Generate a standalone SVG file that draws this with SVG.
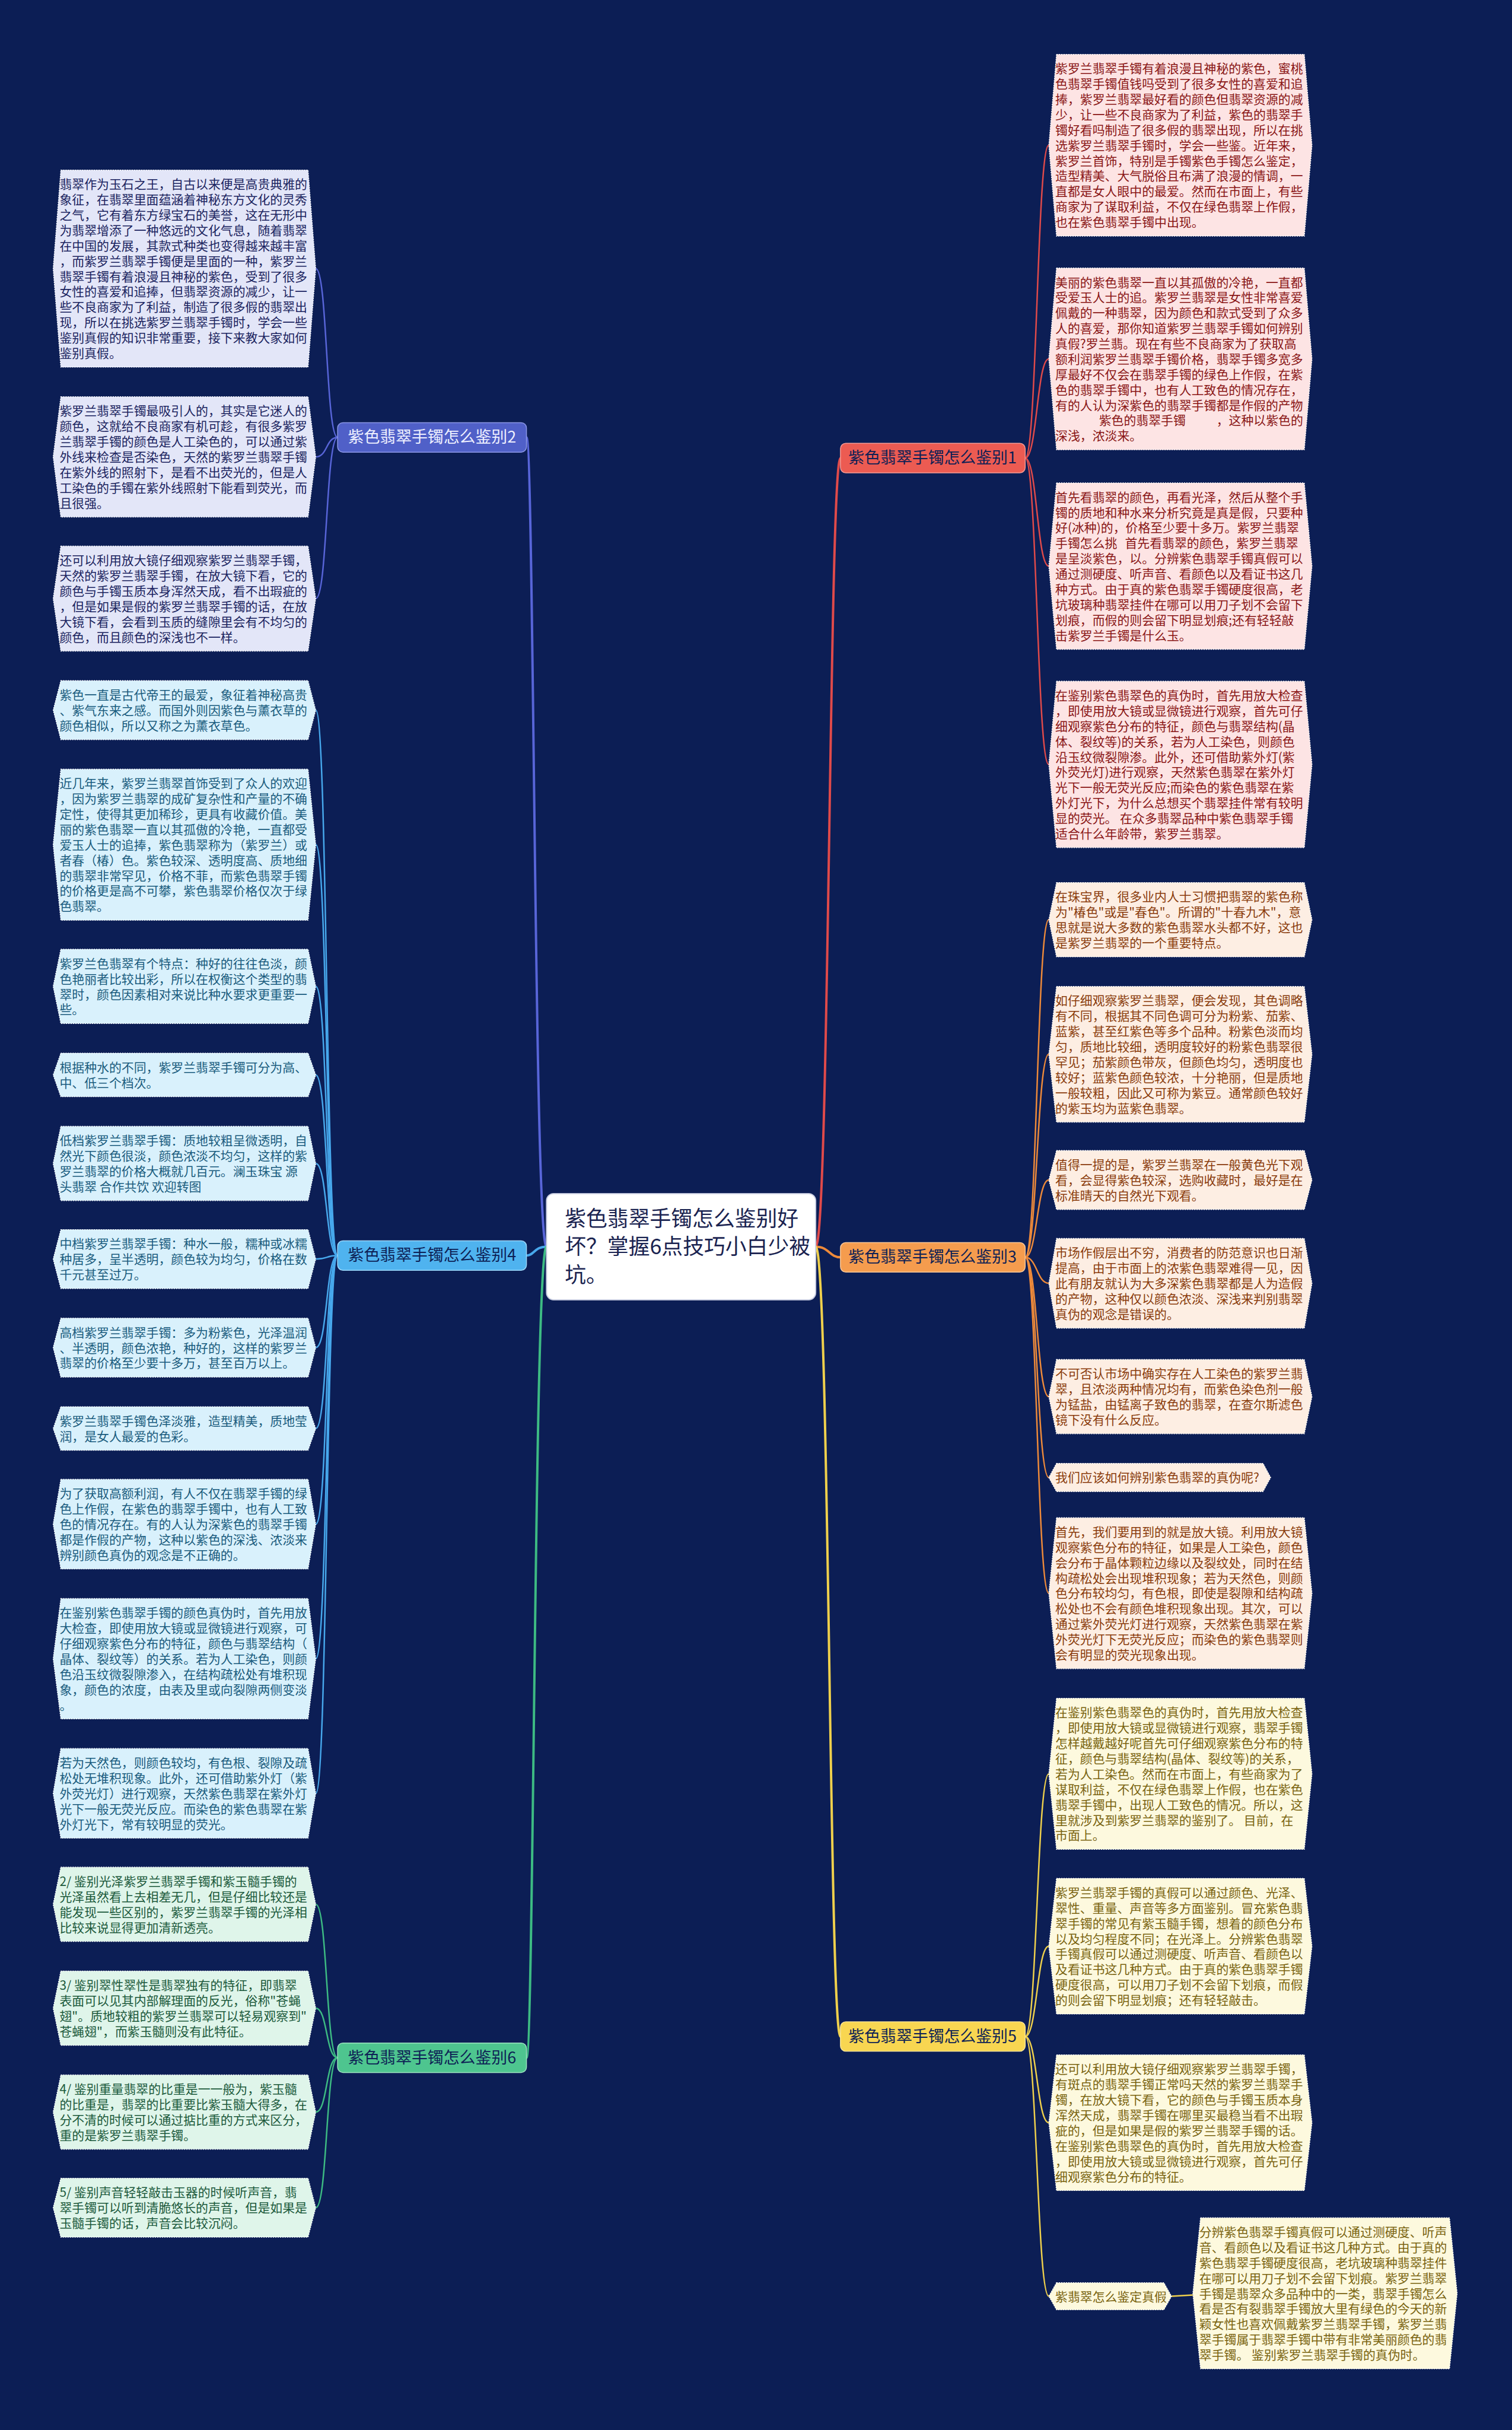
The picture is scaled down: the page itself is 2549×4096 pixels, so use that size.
<svg xmlns="http://www.w3.org/2000/svg" width="2549" height="4096" viewBox="0 0 2549 4096">
<style>
text{font-family:"Noto Sans CJK SC","Noto Sans",sans-serif;}
.t{font-size:21px;}
.box{stroke:#ffffff;stroke-width:1.3;stroke-dasharray:2 2;}
.g2 .box{fill:#e3e6f8}.g2 text{fill:#1b2460}
.g4 .box{fill:#d9f1fc}.g4 text{fill:#1a5c7e}
.g6 .box{fill:#dff5ea}.g6 text{fill:#1c5a3c}
.g1 .box{fill:#fde4e4}.g1 text{fill:#8a1616}
.g3 .box{fill:#fdeee3}.g3 text{fill:#8a3c0c}
.g5 .box{fill:#fdf9de}.g5 text{fill:#7a6410}
.br{font-size:27px;text-anchor:middle;}
.c{fill:none;stroke-width:2.5;}
.m{fill:none;stroke-width:4;}
</style>
<rect x="0" y="0" width="2549" height="4096" fill="#0c1e55"/>
<g transform="scale(0.995)">
<g id="connectors">
<path class="m" stroke="#5865d8" d="M926,2112 C905,2112 905,741 892,741"/>
<path class="m" stroke="#47a8ec" d="M926,2112 C905,2112 905,2127 892,2127"/>
<path class="m" stroke="#3dbb83" d="M926,2112 C905,2112 905,3486 892,3486"/>
<path class="m" stroke="#e04a4a" d="M1382,2112 C1405,2112 1405,776 1424,776"/>
<path class="m" stroke="#ee8a3a" d="M1382,2112 C1405,2112 1405,2130 1424,2130"/>
<path class="m" stroke="#efd04c" d="M1382,2112 C1405,2112 1405,3450 1424,3450"/>
<g stroke="#5865d8">
<path class="c" d="M572,741 C552,741 555,455 535,455"/>
<path class="c" d="M572,741 C552,741 555,774 535,774"/>
<path class="c" d="M572,741 C552,741 555,1014 535,1014"/>
</g>
<g stroke="#47a8ec">
<path class="c" d="M572,2127 C552,2127 555,1203 535,1203"/>
<path class="c" d="M572,2127 C552,2127 555,1431 535,1431"/>
<path class="c" d="M572,2127 C552,2127 555,1671 535,1671"/>
<path class="c" d="M572,2127 C552,2127 555,1821 535,1821"/>
<path class="c" d="M572,2127 C552,2127 555,1971 535,1971"/>
<path class="c" d="M572,2127 C552,2127 555,2133 535,2133"/>
<path class="c" d="M572,2127 C552,2127 555,2283 535,2283"/>
<path class="c" d="M572,2127 C552,2127 555,2420 535,2420"/>
<path class="c" d="M572,2127 C552,2127 555,2582 535,2582"/>
<path class="c" d="M572,2127 C552,2127 555,2810 535,2810"/>
<path class="c" d="M572,2127 C552,2127 555,3038 535,3038"/>
</g>
<g stroke="#3dbb83">
<path class="c" d="M572,3486 C552,3486 555,3226 535,3226"/>
<path class="c" d="M572,3486 C552,3486 555,3402 535,3402"/>
<path class="c" d="M572,3486 C552,3486 555,3578 535,3578"/>
<path class="c" d="M572,3486 C552,3486 555,3740 535,3740"/>
</g>
<g stroke="#e04a4a">
<path class="c" d="M1737,776 C1757,776 1757,246 1777,246"/>
<path class="c" d="M1737,776 C1757,776 1757,608 1777,608"/>
<path class="c" d="M1737,776 C1757,776 1757,959 1777,959"/>
<path class="c" d="M1737,776 C1757,776 1757,1295 1777,1295"/>
</g>
<g stroke="#ee8a3a">
<path class="c" d="M1737,2130 C1757,2130 1757,1558 1777,1558"/>
<path class="c" d="M1737,2130 C1757,2130 1757,1786 1777,1786"/>
<path class="c" d="M1737,2130 C1757,2130 1757,1999 1777,1999"/>
<path class="c" d="M1737,2130 C1757,2130 1757,2174 1777,2174"/>
<path class="c" d="M1737,2130 C1757,2130 1757,2366 1777,2366"/>
<path class="c" d="M1737,2130 C1757,2130 1757,2503 1777,2503"/>
<path class="c" d="M1737,2130 C1757,2130 1757,2699 1777,2699"/>
</g>
<g stroke="#efd04c">
<path class="c" d="M1737,3450 C1757,3450 1757,3005 1777,3005"/>
<path class="c" d="M1737,3450 C1757,3450 1757,3297 1777,3297"/>
<path class="c" d="M1737,3450 C1757,3450 1757,3596 1777,3596"/>
<path class="c" d="M1737,3450 C1757,3450 1757,3890 1777,3890"/>
<path class="c" d="M1985,3890 L2021,3888"/>
</g>
</g>

<g id="center">
<rect x="926" y="2022" width="456" height="180" rx="12" fill="#ffffff" stroke="#c8cde0" stroke-width="2"/>
<text x="957" y="2077" font-size="36" fill="#1a2350">紫色翡翠手镯怎么鉴别好</text>
<text x="957" y="2125" font-size="36" fill="#1a2350">坏？掌握6点技巧小白少被</text>
<text x="957" y="2173" font-size="36" fill="#1a2350">坑。</text>
</g>

<g id="branch2"><rect x="572" y="716" width="320" height="50" rx="9" fill="#5060c8" stroke="#8c98e8" stroke-width="1.5"/><text class="br" x="732" y="750" fill="#eef0ff">紫色翡翠手镯怎么鉴别2</text></g>
<g id="branch4"><rect x="572" y="2102" width="320" height="50" rx="9" fill="#4fb3ef" stroke="#9bd6f8" stroke-width="1.5"/><text class="br" x="732" y="2136" fill="#0d1f55">紫色翡翠手镯怎么鉴别4</text></g>
<g id="branch6"><rect x="572" y="3461" width="320" height="50" rx="9" fill="#4ec58f" stroke="#9ce3c0" stroke-width="1.5"/><text class="br" x="732" y="3495" fill="#0d1f55">紫色翡翠手镯怎么鉴别6</text></g>
<g id="branch1"><rect x="1424" y="751" width="313" height="50" rx="9" fill="#ec5b52" stroke="#f59a94" stroke-width="1.5"/><text class="br" x="1580" y="785" fill="#0d1f55">紫色翡翠手镯怎么鉴别1</text></g>
<g id="branch3"><rect x="1424" y="2105" width="313" height="50" rx="9" fill="#f59c4e" stroke="#f9c797" stroke-width="1.5"/><text class="br" x="1580" y="2139" fill="#0d1f55">紫色翡翠手镯怎么鉴别3</text></g>
<g id="branch5"><rect x="1424" y="3425" width="313" height="50" rx="9" fill="#f8d651" stroke="#fbe79a" stroke-width="1.5"/><text class="br" x="1580" y="3459" fill="#0d1f55">紫色翡翠手镯怎么鉴别5</text></g>

<g class="g2">
<g id="L2a"><polygon class="box" points="103,288 522,288 535,455 522,622 103,622 90,455"/>
<text class="t" x="101" y="320">翡翠作为玉石之王，自古以来便是高贵典雅的</text>
<text class="t" x="101" y="346">象征，在翡翠里面蕴涵着神秘东方文化的灵秀</text>
<text class="t" x="101" y="372">之气，它有着东方绿宝石的美誉，这在无形中</text>
<text class="t" x="101" y="398">为翡翠增添了一种悠远的文化气息，随着翡翠</text>
<text class="t" x="101" y="424">在中国的发展，其款式种类也变得越来越丰富</text>
<text class="t" x="101" y="450">，而紫罗兰翡翠手镯便是里面的一种，紫罗兰</text>
<text class="t" x="101" y="476">翡翠手镯有着浪漫且神秘的紫色，受到了很多</text>
<text class="t" x="101" y="502">女性的喜爱和追捧，但翡翠资源的减少，让一</text>
<text class="t" x="101" y="528">些不良商家为了利益，制造了很多假的翡翠出</text>
<text class="t" x="101" y="554">现，所以在挑选紫罗兰翡翠手镯时，学会一些</text>
<text class="t" x="101" y="580">鉴别真假的知识非常重要，接下来教大家如何</text>
<text class="t" x="101" y="606">鉴别真假。</text></g>
<g id="L2b"><polygon class="box" points="103,672 522,672 535,774 522,876 103,876 90,774"/>
<text class="t" x="101" y="704">紫罗兰翡翠手镯最吸引人的，其实是它迷人的</text>
<text class="t" x="101" y="730">颜色，这就给不良商家有机可趁，有很多紫罗</text>
<text class="t" x="101" y="756">兰翡翠手镯的颜色是人工染色的，可以通过紫</text>
<text class="t" x="101" y="782">外线来检查是否染色，天然的紫罗兰翡翠手镯</text>
<text class="t" x="101" y="808">在紫外线的照射下，是看不出荧光的，但是人</text>
<text class="t" x="101" y="834">工染色的手镯在紫外线照射下能看到荧光，而</text>
<text class="t" x="101" y="860">且很强。</text></g>
<g id="L2c"><polygon class="box" points="103,925 522,925 535,1014 522,1103 103,1103 90,1014"/>
<text class="t" x="101" y="957">还可以利用放大镜仔细观察紫罗兰翡翠手镯，</text>
<text class="t" x="101" y="983">天然的紫罗兰翡翠手镯，在放大镜下看，它的</text>
<text class="t" x="101" y="1009">颜色与手镯玉质本身浑然天成，看不出瑕疵的</text>
<text class="t" x="101" y="1035">，但是如果是假的紫罗兰翡翠手镯的话，在放</text>
<text class="t" x="101" y="1061">大镜下看，会看到玉质的缝隙里会有不均匀的</text>
<text class="t" x="101" y="1087">颜色，而且颜色的深浅也不一样。</text></g>
</g>

<g class="g4">
<g id="L4a"><polygon class="box" points="103,1153 522,1153 535,1203 522,1253 103,1253 90,1203"/>
<text class="t" x="101" y="1185">紫色一直是古代帝王的最爱，象征着神秘高贵</text>
<text class="t" x="101" y="1211">、紫气东来之感。而国外则因紫色与薰衣草的</text>
<text class="t" x="101" y="1237">颜色相似，所以又称之为薰衣草色。</text></g>
<g id="L4b"><polygon class="box" points="103,1303 522,1303 535,1431 522,1559 103,1559 90,1431"/>
<text class="t" x="101" y="1335">近几年来，紫罗兰翡翠首饰受到了众人的欢迎</text>
<text class="t" x="101" y="1361">，因为紫罗兰翡翠的成矿复杂性和产量的不确</text>
<text class="t" x="101" y="1387">定性，使得其更加稀珍，更具有收藏价值。美</text>
<text class="t" x="101" y="1413">丽的紫色翡翠一直以其孤傲的冷艳，一直都受</text>
<text class="t" x="101" y="1439">爱玉人士的追捧，紫色翡翠称为（紫罗兰）或</text>
<text class="t" x="101" y="1465">者春（椿）色。紫色较深、透明度高、质地细</text>
<text class="t" x="101" y="1491">的翡翠非常罕见，价格不菲，而紫色翡翠手镯</text>
<text class="t" x="101" y="1517">的价格更是高不可攀，紫色翡翠价格仅次于绿</text>
<text class="t" x="101" y="1543">色翡翠。</text></g>
<g id="L4c"><polygon class="box" points="103,1608 522,1608 535,1671 522,1734 103,1734 90,1671"/>
<text class="t" x="101" y="1640">紫罗兰色翡翠有个特点：种好的往往色淡，颜</text>
<text class="t" x="101" y="1666">色艳丽者比较出彩，所以在权衡这个类型的翡</text>
<text class="t" x="101" y="1692">翠时，颜色因素相对来说比种水要求更重要一</text>
<text class="t" x="101" y="1718">些。</text></g>
<g id="L4d"><polygon class="box" points="103,1784 522,1784 535,1821 522,1858 103,1858 90,1821"/>
<text class="t" x="101" y="1816">根据种水的不同，紫罗兰翡翠手镯可分为高、</text>
<text class="t" x="101" y="1842">中、低三个档次。</text></g>
<g id="L4e"><polygon class="box" points="103,1908 522,1908 535,1971 522,2034 103,2034 90,1971"/>
<text class="t" x="101" y="1940">低档紫罗兰翡翠手镯：质地较粗呈微透明，自</text>
<text class="t" x="101" y="1966">然光下颜色很淡，颜色浓淡不均匀，这样的紫</text>
<text class="t" x="101" y="1992">罗兰翡翠的价格大概就几百元。澜玉珠宝 源</text>
<text class="t" x="101" y="2018">头翡翠 合作共饮 欢迎转图</text></g>
<g id="L4f"><polygon class="box" points="103,2083 522,2083 535,2133 522,2183 103,2183 90,2133"/>
<text class="t" x="101" y="2115">中档紫罗兰翡翠手镯：种水一般，糯种或冰糯</text>
<text class="t" x="101" y="2141">种居多，呈半透明，颜色较为均匀，价格在数</text>
<text class="t" x="101" y="2167">千元甚至过万。</text></g>
<g id="L4g"><polygon class="box" points="103,2233 522,2233 535,2283 522,2333 103,2333 90,2283"/>
<text class="t" x="101" y="2265">高档紫罗兰翡翠手镯：多为粉紫色，光泽温润</text>
<text class="t" x="101" y="2291">、半透明，颜色浓艳，种好的，这样的紫罗兰</text>
<text class="t" x="101" y="2317">翡翠的价格至少要十多万，甚至百万以上。</text></g>
<g id="L4h"><polygon class="box" points="103,2383 522,2383 535,2420 522,2457 103,2457 90,2420"/>
<text class="t" x="101" y="2415">紫罗兰翡翠手镯色泽淡雅，造型精美，质地莹</text>
<text class="t" x="101" y="2441">润，是女人最爱的色彩。</text></g>
<g id="L4i"><polygon class="box" points="103,2506 522,2506 535,2582 522,2658 103,2658 90,2582"/>
<text class="t" x="101" y="2538">为了获取高额利润，有人不仅在翡翠手镯的绿</text>
<text class="t" x="101" y="2564">色上作假，在紫色的翡翠手镯中，也有人工致</text>
<text class="t" x="101" y="2590">色的情况存在。有的人认为深紫色的翡翠手镯</text>
<text class="t" x="101" y="2616">都是作假的产物，这种以紫色的深浅、浓淡来</text>
<text class="t" x="101" y="2642">辨别颜色真伪的观念是不正确的。</text></g>
<g id="L4j"><polygon class="box" points="103,2708 522,2708 535,2810 522,2912 103,2912 90,2810"/>
<text class="t" x="101" y="2740">在鉴别紫色翡翠手镯的颜色真伪时，首先用放</text>
<text class="t" x="101" y="2766">大检查，即使用放大镜或显微镜进行观察，可</text>
<text class="t" x="101" y="2792">仔细观察紫色分布的特征，颜色与翡翠结构（</text>
<text class="t" x="101" y="2818">晶体、裂纹等）的关系。若为人工染色，则颜</text>
<text class="t" x="101" y="2844">色沿玉纹微裂隙渗入，在结构疏松处有堆积现</text>
<text class="t" x="101" y="2870">象，颜色的浓度，由表及里或向裂隙两侧变淡</text>
<text class="t" x="101" y="2896">。</text></g>
<g id="L4k"><polygon class="box" points="103,2962 522,2962 535,3038 522,3114 103,3114 90,3038"/>
<text class="t" x="101" y="2994">若为天然色，则颜色较均，有色根、裂隙及疏</text>
<text class="t" x="101" y="3020">松处无堆积现象。此外，还可借助紫外灯（紫</text>
<text class="t" x="101" y="3046">外荧光灯）进行观察，天然紫色翡翠在紫外灯</text>
<text class="t" x="101" y="3072">光下一般无荧光反应。而染色的紫色翡翠在紫</text>
<text class="t" x="101" y="3098">外灯光下，常有较明显的荧光。</text></g>
</g>

<g class="g6">
<g id="L6a"><polygon class="box" points="103,3163 522,3163 535,3226 522,3289 103,3289 90,3226"/>
<text class="t" x="101" y="3195">2/ 鉴别光泽紫罗兰翡翠手镯和紫玉髓手镯的</text>
<text class="t" x="101" y="3221">光泽虽然看上去相差无几，但是仔细比较还是</text>
<text class="t" x="101" y="3247">能发现一些区别的，紫罗兰翡翠手镯的光泽相</text>
<text class="t" x="101" y="3273">比较来说显得更加清新透亮。</text></g>
<g id="L6b"><polygon class="box" points="103,3339 522,3339 535,3402 522,3465 103,3465 90,3402"/>
<text class="t" x="101" y="3371">3/ 鉴别翠性翠性是翡翠独有的特征，即翡翠</text>
<text class="t" x="101" y="3397">表面可以见其内部解理面的反光，俗称"苍蝇</text>
<text class="t" x="101" y="3423">翅"。质地较粗的紫罗兰翡翠可以轻易观察到"</text>
<text class="t" x="101" y="3449">苍蝇翅"，而紫玉髓则没有此特征。</text></g>
<g id="L6c"><polygon class="box" points="103,3515 522,3515 535,3578 522,3641 103,3641 90,3578"/>
<text class="t" x="101" y="3547">4/ 鉴别重量翡翠的比重是一一般为，紫玉髓</text>
<text class="t" x="101" y="3573">的比重是，翡翠的比重要比紫玉髓大得多，在</text>
<text class="t" x="101" y="3599">分不清的时候可以通过掂比重的方式来区分，</text>
<text class="t" x="101" y="3625">重的是紫罗兰翡翠手镯。</text></g>
<g id="L6d"><polygon class="box" points="103,3690 522,3690 535,3740 522,3790 103,3790 90,3740"/>
<text class="t" x="101" y="3722">5/ 鉴别声音轻轻敲击玉器的时候听声音，翡</text>
<text class="t" x="101" y="3748">翠手镯可以听到清脆悠长的声音，但是如果是</text>
<text class="t" x="101" y="3774">玉髓手镯的话，声音会比较沉闷。</text></g>
</g>

<g class="g1">
<g id="R1a"><polygon class="box" points="1790,92 2210,92 2223,246 2210,400 1790,400 1777,246"/>
<text class="t" x="1788" y="124">紫罗兰翡翠手镯有着浪漫且神秘的紫色，蜜桃</text>
<text class="t" x="1788" y="150">色翡翠手镯值钱吗受到了很多女性的喜爱和追</text>
<text class="t" x="1788" y="176">捧，紫罗兰翡翠最好看的颜色但翡翠资源的减</text>
<text class="t" x="1788" y="202">少，让一些不良商家为了利益，紫色的翡翠手</text>
<text class="t" x="1788" y="228">镯好看吗制造了很多假的翡翠出现，所以在挑</text>
<text class="t" x="1788" y="254">选紫罗兰翡翠手镯时，学会一些鉴。近年来，</text>
<text class="t" x="1788" y="280">紫罗兰首饰，特别是手镯紫色手镯怎么鉴定，</text>
<text class="t" x="1788" y="306">造型精美、大气脱俗且布满了浪漫的情调，一</text>
<text class="t" x="1788" y="332">直都是女人眼中的最爱。然而在市面上，有些</text>
<text class="t" x="1788" y="358">商家为了谋取利益，不仅在绿色翡翠上作假，</text>
<text class="t" x="1788" y="384">也在紫色翡翠手镯中出现。</text></g>
<g id="R1b"><polygon class="box" points="1790,454 2210,454 2223,608 2210,762 1790,762 1777,608"/>
<text class="t" x="1788" y="486">美丽的紫色翡翠一直以其孤傲的冷艳，一直都</text>
<text class="t" x="1788" y="512">受爱玉人士的追。紫罗兰翡翠是女性非常喜爱</text>
<text class="t" x="1788" y="538">佩戴的一种翡翠，因为颜色和款式受到了众多</text>
<text class="t" x="1788" y="564">人的喜爱，那你知道紫罗兰翡翠手镯如何辨别</text>
<text class="t" x="1788" y="590">真假?罗兰翡。现在有些不良商家为了获取高</text>
<text class="t" x="1788" y="616">额利润紫罗兰翡翠手镯价格，翡翠手镯多宽多</text>
<text class="t" x="1788" y="642">厚最好不仅会在翡翠手镯的绿色上作假，在紫</text>
<text class="t" x="1788" y="668">色的翡翠手镯中，也有人工致色的情况存在，</text>
<text class="t" x="1788" y="694">有的人认为深紫色的翡翠手镯都是作假的产物</text>
<text class="t" y="720"><tspan x="1862">紫色的翡翠手镯</tspan><tspan x="2061">，这种以紫色的</tspan></text>
<text class="t" x="1788" y="746">深浅，浓淡来。</text></g>
<g id="R1c"><polygon class="box" points="1790,818 2210,818 2223,959 2210,1100 1790,1100 1777,959"/>
<text class="t" x="1788" y="850">首先看翡翠的颜色，再看光泽，然后从整个手</text>
<text class="t" x="1788" y="876">镯的质地和种水来分析究竟是真是假，只要种</text>
<text class="t" x="1788" y="902">好(冰种)的，价格至少要十多万。紫罗兰翡翠</text>
<text class="t" y="928"><tspan x="1788">手镯怎么挑</tspan><tspan x="1906">首先看翡翠的颜色，紫罗兰翡翠</tspan></text>
<text class="t" x="1788" y="954">是呈淡紫色，以。分辨紫色翡翠手镯真假可以</text>
<text class="t" x="1788" y="980">通过测硬度、听声音、看颜色以及看证书这几</text>
<text class="t" x="1788" y="1006">种方式。由于真的紫色翡翠手镯硬度很高，老</text>
<text class="t" x="1788" y="1032">坑玻璃种翡翠挂件在哪可以用刀子划不会留下</text>
<text class="t" x="1788" y="1058">划痕，而假的则会留下明显划痕;还有轻轻敲</text>
<text class="t" x="1788" y="1084">击紫罗兰手镯是什么玉。</text></g>
<g id="R1d"><polygon class="box" points="1790,1154 2210,1154 2223,1295 2210,1436 1790,1436 1777,1295"/>
<text class="t" x="1788" y="1186">在鉴别紫色翡翠色的真伪时，首先用放大检查</text>
<text class="t" x="1788" y="1212">，即使用放大镜或显微镜进行观察，首先可仔</text>
<text class="t" x="1788" y="1238">细观察紫色分布的特征，颜色与翡翠结构(晶</text>
<text class="t" x="1788" y="1264">体、裂纹等)的关系，若为人工染色，则颜色</text>
<text class="t" x="1788" y="1290">沿玉纹微裂隙渗。此外，还可借助紫外灯(紫</text>
<text class="t" x="1788" y="1316">外荧光灯)进行观察，天然紫色翡翠在紫外灯</text>
<text class="t" x="1788" y="1342">光下一般无荧光反应;而染色的紫色翡翠在紫</text>
<text class="t" x="1788" y="1368">外灯光下，为什么总想买个翡翠挂件常有较明</text>
<text class="t" x="1788" y="1394">显的荧光。 在众多翡翠品种中紫色翡翠手镯</text>
<text class="t" x="1788" y="1420">适合什么年龄带，紫罗兰翡翠。</text></g>
</g>

<g class="g3">
<g id="R3a"><polygon class="box" points="1790,1495 2210,1495 2223,1558 2210,1621 1790,1621 1777,1558"/>
<text class="t" x="1788" y="1527">在珠宝界，很多业内人士习惯把翡翠的紫色称</text>
<text class="t" x="1788" y="1553">为"椿色"或是"春色"。所谓的"十春九木"，意</text>
<text class="t" x="1788" y="1579">思就是说大多数的紫色翡翠水头都不好，这也</text>
<text class="t" x="1788" y="1605">是紫罗兰翡翠的一个重要特点。</text></g>
<g id="R3b"><polygon class="box" points="1790,1671 2210,1671 2223,1786 2210,1901 1790,1901 1777,1786"/>
<text class="t" x="1788" y="1703">如仔细观察紫罗兰翡翠，便会发现，其色调略</text>
<text class="t" x="1788" y="1729">有不同，根据其不同色调可分为粉紫、茄紫、</text>
<text class="t" x="1788" y="1755">蓝紫，甚至红紫色等多个品种。粉紫色淡而均</text>
<text class="t" x="1788" y="1781">匀，质地比较细，透明度较好的粉紫色翡翠很</text>
<text class="t" x="1788" y="1807">罕见；茄紫颜色带灰，但颜色均匀，透明度也</text>
<text class="t" x="1788" y="1833">较好；蓝紫色颜色较浓，十分艳丽，但是质地</text>
<text class="t" x="1788" y="1859">一般较粗，因此又可称为紫豆。通常颜色较好</text>
<text class="t" x="1788" y="1885">的紫玉均为蓝紫色翡翠。</text></g>
<g id="R3c"><polygon class="box" points="1790,1949 2210,1949 2223,1999 2210,2049 1790,2049 1777,1999"/>
<text class="t" x="1788" y="1981">值得一提的是，紫罗兰翡翠在一般黄色光下观</text>
<text class="t" x="1788" y="2007">看，会显得紫色较深，选购收藏时，最好是在</text>
<text class="t" x="1788" y="2033">标准晴天的自然光下观看。</text></g>
<g id="R3d"><polygon class="box" points="1790,2098 2210,2098 2223,2174 2210,2250 1790,2250 1777,2174"/>
<text class="t" x="1788" y="2130">市场作假层出不穷，消费者的防范意识也日渐</text>
<text class="t" x="1788" y="2156">提高，由于市面上的浓紫色翡翠难得一见，因</text>
<text class="t" x="1788" y="2182">此有朋友就认为大多深紫色翡翠都是人为造假</text>
<text class="t" x="1788" y="2208">的产物，这种仅以颜色浓淡、深浅来判别翡翠</text>
<text class="t" x="1788" y="2234">真伪的观念是错误的。</text></g>
<g id="R3e"><polygon class="box" points="1790,2303 2210,2303 2223,2366 2210,2429 1790,2429 1777,2366"/>
<text class="t" x="1788" y="2335">不可否认市场中确实存在人工染色的紫罗兰翡</text>
<text class="t" x="1788" y="2361">翠，且浓淡两种情况均有，而紫色染色剂一般</text>
<text class="t" x="1788" y="2387">为锰盐，由锰离子致色的翡翠，在查尔斯滤色</text>
<text class="t" x="1788" y="2413">镜下没有什么反应。</text></g>
<g id="R3f"><polygon class="box" points="1790,2479 2140,2479 2153,2503 2140,2527 1790,2527 1777,2503"/>
<text class="t" x="1788" y="2511">我们应该如何辨别紫色翡翠的真伪呢?</text></g>
<g id="R3g"><polygon class="box" points="1790,2571 2210,2571 2223,2699 2210,2827 1790,2827 1777,2699"/>
<text class="t" x="1788" y="2603">首先，我们要用到的就是放大镜。利用放大镜</text>
<text class="t" x="1788" y="2629">观察紫色分布的特征，如果是人工染色，颜色</text>
<text class="t" x="1788" y="2655">会分布于晶体颗粒边缘以及裂纹处，同时在结</text>
<text class="t" x="1788" y="2681">构疏松处会出现堆积现象；若为天然色，则颜</text>
<text class="t" x="1788" y="2707">色分布较均匀，有色根，即使是裂隙和结构疏</text>
<text class="t" x="1788" y="2733">松处也不会有颜色堆积现象出现。其次，可以</text>
<text class="t" x="1788" y="2759">通过紫外荧光灯进行观察，天然紫色翡翠在紫</text>
<text class="t" x="1788" y="2785">外荧光灯下无荧光反应；而染色的紫色翡翠则</text>
<text class="t" x="1788" y="2811">会有明显的荧光现象出现。</text></g>
</g>

<g class="g5">
<g id="R5a"><polygon class="box" points="1790,2877 2210,2877 2223,3005 2210,3133 1790,3133 1777,3005"/>
<text class="t" x="1788" y="2909">在鉴别紫色翡翠色的真伪时，首先用放大检查</text>
<text class="t" x="1788" y="2935">，即使用放大镜或显微镜进行观察，翡翠手镯</text>
<text class="t" x="1788" y="2961">怎样越戴越好呢首先可仔细观察紫色分布的特</text>
<text class="t" x="1788" y="2987">征，颜色与翡翠结构(晶体、裂纹等)的关系，</text>
<text class="t" x="1788" y="3013">若为人工染色。然而在市面上，有些商家为了</text>
<text class="t" x="1788" y="3039">谋取利益，不仅在绿色翡翠上作假，也在紫色</text>
<text class="t" x="1788" y="3065">翡翠手镯中，出现人工致色的情况。所以，这</text>
<text class="t" x="1788" y="3091">里就涉及到紫罗兰翡翠的鉴别了。 目前，在</text>
<text class="t" x="1788" y="3117">市面上。</text></g>
<g id="R5b"><polygon class="box" points="1790,3182 2210,3182 2223,3297 2210,3412 1790,3412 1777,3297"/>
<text class="t" x="1788" y="3214">紫罗兰翡翠手镯的真假可以通过颜色、光泽、</text>
<text class="t" x="1788" y="3240">翠性、重量、声音等多方面鉴别。冒充紫色翡</text>
<text class="t" x="1788" y="3266">翠手镯的常见有紫玉髓手镯，想着的颜色分布</text>
<text class="t" x="1788" y="3292">以及均匀程度不同；在光泽上。分辨紫色翡翠</text>
<text class="t" x="1788" y="3318">手镯真假可以通过测硬度、听声音、看颜色以</text>
<text class="t" x="1788" y="3344">及看证书这几种方式。由于真的紫色翡翠手镯</text>
<text class="t" x="1788" y="3370">硬度很高，可以用刀子划不会留下划痕，而假</text>
<text class="t" x="1788" y="3396">的则会留下明显划痕；还有轻轻敲击。</text></g>
<g id="R5c"><polygon class="box" points="1790,3481 2210,3481 2223,3596 2210,3711 1790,3711 1777,3596"/>
<text class="t" x="1788" y="3513">还可以利用放大镜仔细观察紫罗兰翡翠手镯，</text>
<text class="t" x="1788" y="3539">有斑点的翡翠手镯正常吗天然的紫罗兰翡翠手</text>
<text class="t" x="1788" y="3565">镯，在放大镜下看，它的颜色与手镯玉质本身</text>
<text class="t" x="1788" y="3591">浑然天成，翡翠手镯在哪里买最稳当看不出瑕</text>
<text class="t" x="1788" y="3617">疵的，但是如果是假的紫罗兰翡翠手镯的话。</text>
<text class="t" x="1788" y="3643">在鉴别紫色翡翠色的真伪时，首先用放大检查</text>
<text class="t" x="1788" y="3669">，即使用放大镜或显微镜进行观察，首先可仔</text>
<text class="t" x="1788" y="3695">细观察紫色分布的特征。</text></g>
<g id="R5d"><polygon class="box" points="1790,3867 1972,3867 1985,3890 1972,3913 1790,3913 1777,3890"/>
<text class="t" x="1788" y="3898">紫翡翠怎么鉴定真假</text></g>
<g id="R5e"><polygon class="box" points="2034,3757 2456,3757 2469,3885 2456,4013 2034,4013 2021,3885"/>
<text class="t" x="2032" y="3789">分辨紫色翡翠手镯真假可以通过测硬度、听声</text>
<text class="t" x="2032" y="3815">音、看颜色以及看证书这几种方式。由于真的</text>
<text class="t" x="2032" y="3841">紫色翡翠手镯硬度很高，老坑玻璃种翡翠挂件</text>
<text class="t" x="2032" y="3867">在哪可以用刀子划不会留下划痕。紫罗兰翡翠</text>
<text class="t" x="2032" y="3893">手镯是翡翠众多品种中的一类，翡翠手镯怎么</text>
<text class="t" x="2032" y="3919">看是否有裂翡翠手镯放大里有绿色的今天的新</text>
<text class="t" x="2032" y="3945">颖女性也喜欢佩戴紫罗兰翡翠手镯，紫罗兰翡</text>
<text class="t" x="2032" y="3971">翠手镯属于翡翠手镯中带有非常美丽颜色的翡</text>
<text class="t" x="2032" y="3997">翠手镯。 鉴别紫罗兰翡翠手镯的真伪时。</text></g>
</g>
</g>
</svg>
